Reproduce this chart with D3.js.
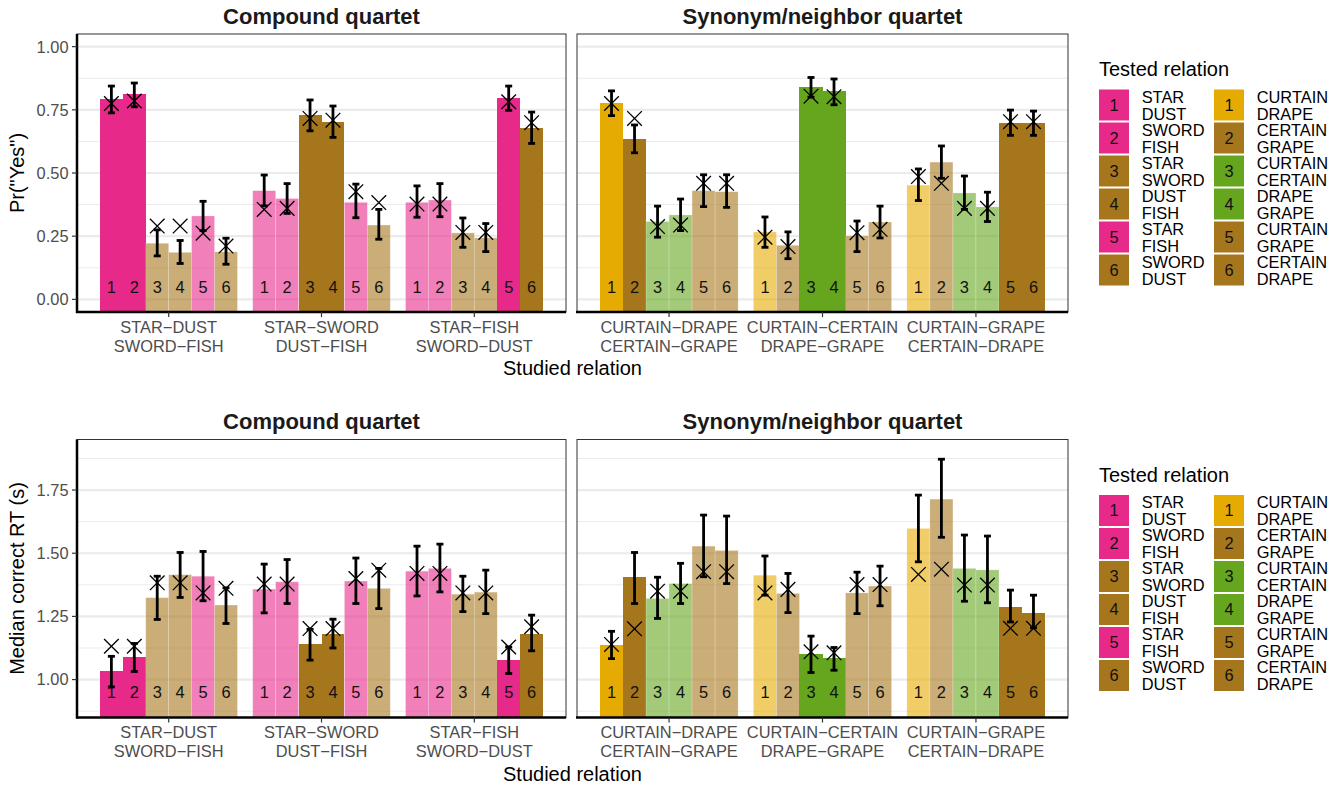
<!DOCTYPE html>
<html>
<head>
<meta charset="utf-8">
<script src="https://cdn.jsdelivr.net/npm/d3@7"></script>
<style>
  body { margin: 0; background: #fff; }
  svg { display: block; font-family: "Liberation Sans", Arial, sans-serif; }
</style>
</head>
<body>
<div id="chart"></div>
<script>
const quartets = ["Compound quartet", "Synonym/neighbor quartet"];
const studiedLabels = [
  [["STAR−DUST", "SWORD−FISH"], ["STAR−SWORD", "DUST−FISH"], ["STAR−FISH", "SWORD−DUST"]],
  [["CURTAIN−DRAPE", "CERTAIN−GRAPE"], ["CURTAIN−CERTAIN", "DRAPE−GRAPE"], ["CURTAIN−GRAPE", "CERTAIN−DRAPE"]]
];
const studiedPairs = [[1, 2], [3, 4], [5, 6]];
const testedNums = [1, 2, 3, 4, 5, 6];
const compoundTested = [["STAR", "DUST"], ["SWORD", "FISH"], ["STAR", "SWORD"], ["DUST", "FISH"], ["STAR", "FISH"], ["SWORD", "DUST"]];
const synonymTested = [["CURTAIN", "DRAPE"], ["CERTAIN", "GRAPE"], ["CURTAIN", "CERTAIN"], ["DRAPE", "GRAPE"], ["CURTAIN", "GRAPE"], ["CERTAIN", "DRAPE"]];
const compoundColors = ["#E7298A", "#E7298A", "#A6761D", "#A6761D", "#E7298A", "#A6761D"];
const synonymColors = ["#E6AB02", "#A6761D", "#66A61E", "#66A61E", "#A6761D", "#A6761D"];

// one row per studied relation, six tested relations each
const compoundYes = [
  [0.792, 0.812, 0.222, 0.186, 0.330, 0.188],
  [0.430, 0.399, 0.729, 0.700, 0.384, 0.294],
  [0.384, 0.393, 0.263, 0.243, 0.797, 0.679]];
const compoundYesLo = [
  [0.738, 0.762, 0.172, 0.142, 0.272, 0.139],
  [0.370, 0.340, 0.667, 0.641, 0.323, 0.238],
  [0.325, 0.327, 0.206, 0.189, 0.748, 0.617]];
const compoundYesHi = [
  [0.844, 0.856, 0.275, 0.233, 0.388, 0.242],
  [0.492, 0.458, 0.789, 0.765, 0.456, 0.356],
  [0.449, 0.458, 0.322, 0.300, 0.844, 0.741]];
const compoundYesPred = [
  [0.775, 0.785, 0.290, 0.290, 0.262, 0.211],
  [0.356, 0.360, 0.716, 0.709, 0.426, 0.383],
  [0.377, 0.377, 0.265, 0.265, 0.782, 0.699]];

const synonymYes = [
  [0.777, 0.634, 0.308, 0.334, 0.430, 0.426],
  [0.267, 0.214, 0.839, 0.824, 0.251, 0.306],
  [0.452, 0.543, 0.421, 0.366, 0.698, 0.698]];
const synonymYesLo = [
  [0.727, 0.580, 0.246, 0.272, 0.367, 0.364],
  [0.206, 0.161, 0.800, 0.770, 0.189, 0.243],
  [0.391, 0.479, 0.356, 0.308, 0.649, 0.649]];
const synonymYesHi = [
  [0.825, 0.690, 0.369, 0.397, 0.493, 0.493],
  [0.326, 0.267, 0.878, 0.872, 0.310, 0.369],
  [0.516, 0.607, 0.488, 0.424, 0.749, 0.745]];
const synonymYesPred = [
  [0.775, 0.716, 0.288, 0.294, 0.459, 0.459],
  [0.246, 0.209, 0.804, 0.802, 0.264, 0.277],
  [0.486, 0.459, 0.360, 0.360, 0.703, 0.703]];

const compoundRT = [
  [1.033, 1.088, 1.324, 1.415, 1.409, 1.295],
  [1.358, 1.387, 1.140, 1.182, 1.390, 1.361],
  [1.429, 1.440, 1.338, 1.346, 1.077, 1.182]];
const compoundRTLo = [
  [0.971, 1.032, 1.238, 1.325, 1.312, 1.222],
  [1.264, 1.301, 1.077, 1.125, 1.301, 1.281],
  [1.331, 1.347, 1.269, 1.261, 1.024, 1.114]];
const compoundRTHi = [
  [1.092, 1.143, 1.409, 1.503, 1.507, 1.363],
  [1.457, 1.475, 1.199, 1.239, 1.481, 1.440],
  [1.528, 1.536, 1.409, 1.433, 1.129, 1.255]];
const compoundRTPred = [
  [1.132, 1.132, 1.383, 1.383, 1.343, 1.361],
  [1.378, 1.378, 1.202, 1.202, 1.400, 1.433],
  [1.420, 1.420, 1.343, 1.343, 1.129, 1.209]];

const synonymRT = [
  [1.135, 1.404, 1.321, 1.380, 1.528, 1.511],
  [1.413, 1.341, 1.100, 1.085, 1.343, 1.370],
  [1.598, 1.714, 1.440, 1.434, 1.289, 1.265]];
const synonymRTLo = [
  [1.083, 1.301, 1.242, 1.301, 1.407, 1.380],
  [1.334, 1.265, 1.028, 1.037, 1.261, 1.292],
  [1.466, 1.563, 1.310, 1.304, 1.228, 1.205]];
const synonymRTHi = [
  [1.191, 1.503, 1.405, 1.460, 1.651, 1.647],
  [1.489, 1.420, 1.172, 1.127, 1.425, 1.449],
  [1.730, 1.872, 1.572, 1.568, 1.354, 1.334]];
const synonymRTPred = [
  [1.139, 1.201, 1.350, 1.350, 1.427, 1.427],
  [1.343, 1.357, 1.110, 1.106, 1.376, 1.376],
  [1.416, 1.437, 1.374, 1.374, 1.203, 1.203]];

const yesTicks = [0, 0.25, 0.5, 0.75, 1];
const yesMinor = [0.125, 0.375, 0.625, 0.875];
const rtTicks = [1, 1.25, 1.5, 1.75];
const rtMinor = [0.875, 1.125, 1.375, 1.625, 1.875];

const width = 1340, height = 786;
const panelX = [[77, 566], [577, 1068]];
const lightAlpha = 0.6;

const rows = [
  { title: 'Pr("Yes")', domain: [-0.05, 1.05], range: [312, 34], ticks: yesTicks, minor: yesMinor,
    sets: [
      { bar: compoundYes, lo: compoundYesLo, hi: compoundYesHi, pred: compoundYesPred },
      { bar: synonymYes, lo: synonymYesLo, hi: synonymYesHi, pred: synonymYesPred }] },
  { title: "Median correct RT (s)", domain: [0.85, 1.95], range: [717.5, 439.5], ticks: rtTicks, minor: rtMinor,
    sets: [
      { bar: compoundRT, lo: compoundRTLo, hi: compoundRTHi, pred: compoundRTPred },
      { bar: synonymRT, lo: synonymRTLo, hi: synonymRTHi, pred: synonymRTPred }] }
];

const colorSets = [compoundColors, synonymColors];
const testedSets = [compoundTested, synonymTested];

const svg = d3.select("#chart").append("svg")
  .attr("width", width)
  .attr("height", height);

const defs = svg.append("defs");

rows.forEach((row, r) => {
  const y = d3.scaleLinear().domain(row.domain).range(row.range);
  const top = row.range[1], bottom = row.range[0];

  quartets.forEach((q, p) => {
    const [x0, x1] = panelX[p];
    const x = d3.scalePoint().domain([0, 1, 2]).range([x0, x1]).padding(0.6);
    const inner = d3.scaleBand().domain(testedNums)
      .range([-0.45 * x.step(), 0.45 * x.step()]).padding(0);
    const set = row.sets[p];
    const colors = colorSets[p];

    const clipId = `clip-${r}-${p}`;
    defs.append("clipPath").attr("id", clipId)
      .append("rect").attr("x", x0).attr("y", top).attr("width", x1 - x0).attr("height", bottom - top);

    const g = svg.append("g");

    // grid
    g.selectAll(".minor").data(row.minor).enter().append("line")
      .attr("x1", x0).attr("x2", x1)
      .attr("y1", d => y(d)).attr("y2", d => y(d))
      .style("stroke", "#ebebeb").style("stroke-width", 1);
    g.selectAll(".major").data(row.ticks).enter().append("line")
      .attr("x1", x0).attr("x2", x1)
      .attr("y1", d => y(d)).attr("y2", d => y(d))
      .style("stroke", "#ebebeb").style("stroke-width", 2.2);

    // flatten bars
    const bars = [];
    [0, 1, 2].forEach(gi => {
      testedNums.forEach((t, ti) => {
        bars.push({
          group: gi, tested: t,
          value: set.bar[gi][ti], lo: set.lo[gi][ti], hi: set.hi[gi][ti], pred: set.pred[gi][ti],
          color: colors[ti],
          full: studiedPairs[gi].includes(t)
        });
      });
    });
    const cx = d => x(d.group) + inner(d.tested) + inner.bandwidth() / 2;

    const barG = g.append("g").attr("clip-path", `url(#${clipId})`);
    barG.selectAll("rect").data(bars).enter().append("rect")
      .attr("x", d => x(d.group) + inner(d.tested))
      .attr("width", inner.bandwidth())
      .attr("y", d => y(d.value))
      .attr("height", d => y(row.domain[0]) - y(d.value))
      .attr("shape-rendering", d => d.full ? "crispEdges" : null)
      .style("fill", d => d.full ? d.color : d.color)
      .style("fill-opacity", d => d.full ? 1 : lightAlpha)
      .style("stroke", d => d.full ? "none" : "#fff")
      .style("stroke-opacity", 0.3)
      .style("stroke-width", 0.7);

    // number labels
    g.selectAll(".num").data(bars).enter().append("text")
      .attr("x", cx)
      .attr("y", bottom - 25)
      .attr("dy", "0.35em")
      .attr("text-anchor", "middle")
      .style("font-size", "16.4px")
      .style("fill", "#111")
      .text(d => d.tested);

    // error bars
    const eb = g.selectAll(".eb").data(bars).enter().append("g")
      .style("stroke", "#000").style("stroke-width", 2.8);
    eb.append("line").attr("x1", cx).attr("x2", cx)
      .attr("y1", d => y(d.lo)).attr("y2", d => y(d.hi));
    eb.append("line").attr("x1", d => cx(d) - 3.5).attr("x2", d => cx(d) + 3.5)
      .attr("y1", d => y(d.lo)).attr("y2", d => y(d.lo));
    eb.append("line").attr("x1", d => cx(d) - 3.5).attr("x2", d => cx(d) + 3.5)
      .attr("y1", d => y(d.hi)).attr("y2", d => y(d.hi));

    // prediction crosses
    const s = 7.3;
    const cross = g.selectAll(".cross").data(bars).enter().append("g")
      .attr("transform", d => `translate(${cx(d)},${y(d.pred)})`)
      .style("stroke", "#000").style("stroke-width", 1.3);
    cross.append("line").attr("x1", -s).attr("y1", -s).attr("x2", s).attr("y2", s);
    cross.append("line").attr("x1", -s).attr("y1", s).attr("x2", s).attr("y2", -s);

    // panel border
    g.append("rect")
      .attr("x", x0).attr("y", top).attr("width", x1 - x0).attr("height", bottom - top)
      .style("fill", "none").style("stroke", "#333").style("stroke-width", 1);
    // axis lines
    g.append("line").attr("x1", x0 - 1).attr("x2", x1).attr("y1", bottom).attr("y2", bottom)
      .style("stroke", "#000").style("stroke-width", 2.5);
    if (p === 0) {
      g.append("line").attr("x1", x0).attr("x2", x0).attr("y1", top).attr("y2", bottom + 1)
        .style("stroke", "#000").style("stroke-width", 2.5);
      // y ticks
      const yt = g.selectAll(".yt").data(row.ticks).enter();
      yt.append("line").attr("x1", x0 - 5).attr("x2", x0)
        .attr("y1", d => y(d)).attr("y2", d => y(d))
        .style("stroke", "#333").style("stroke-width", 1.2);
      yt.append("text").attr("x", x0 - 8.5).attr("y", d => y(d)).attr("dy", "0.36em")
        .attr("text-anchor", "end")
        .style("font-size", "16.4px").style("fill", "#4d4d4d")
        .text(d => d3.format(".2f")(d));
      // y title
      svg.append("text")
        .attr("transform", `translate(${24},${(top + bottom) / 2}) rotate(-90)`)
        .attr("text-anchor", "middle")
        .style("font-size", "20px").style("fill", "#000")
        .text(row.title);
    }

    // x ticks and labels
    [0, 1, 2].forEach(gi => {
      g.append("line").attr("x1", x(gi)).attr("x2", x(gi))
        .attr("y1", bottom).attr("y2", bottom + 5)
        .style("stroke", "#333").style("stroke-width", 1.2);
      studiedLabels[p][gi].forEach((lab, li) => {
        g.append("text")
          .attr("x", x(gi)).attr("y", bottom + 15 + li * 19).attr("dy", "0.36em")
          .attr("text-anchor", "middle")
          .style("font-size", "16.4px").style("fill", "#4d4d4d")
          .text(lab);
      });
    });

    // panel title
    svg.append("text")
      .attr("x", (x0 + x1) / 2).attr("y", top - 18).attr("dy", "0.36em")
      .attr("text-anchor", "middle")
      .style("font-size", "22px").style("font-weight", "bold").style("fill", "#1a1a1a")
      .text(q);
  });

  // x title
  svg.append("text")
    .attr("x", (panelX[0][0] + panelX[1][1]) / 2).attr("y", bottom + 56).attr("dy", "0.36em")
    .attr("text-anchor", "middle")
    .style("font-size", "20px").style("fill", "#000")
    .text("Studied relation");

  // legend
  const lg = svg.append("g").attr("transform", `translate(1099,${top})`);
  lg.append("text").attr("x", 0).attr("y", 35).attr("dy", "0.36em")
    .style("font-size", "20px").style("fill", "#000")
    .text("Tested relation");
  [0, 1].forEach(p => {
    const col = lg.append("g").attr("transform", `translate(${p * 115},55.5)`);
    const items = col.selectAll("g").data(testedNums).enter().append("g")
      .attr("transform", (d, i) => `translate(0,${i * 33})`);
    items.append("rect").attr("width", 30).attr("height", 31)
      .style("fill", (d, i) => colorSets[p][i]);
    items.append("text").attr("x", 15).attr("y", 15.5).attr("dy", "0.36em")
      .attr("text-anchor", "middle")
      .style("font-size", "16.4px").style("fill", "#111")
      .text(d => d);
    items.each(function (d, i) {
      const it = d3.select(this);
      testedSets[p][i].forEach((w, li) => {
        it.append("text").attr("x", 42.7).attr("y", 15.5 + (li === 0 ? -8 : 8.6)).attr("dy", "0.36em")
          .style("font-size", "16.4px").style("fill", "#000")
          .text(w);
      });
    });
  });
});
</script>
</body>
</html>
